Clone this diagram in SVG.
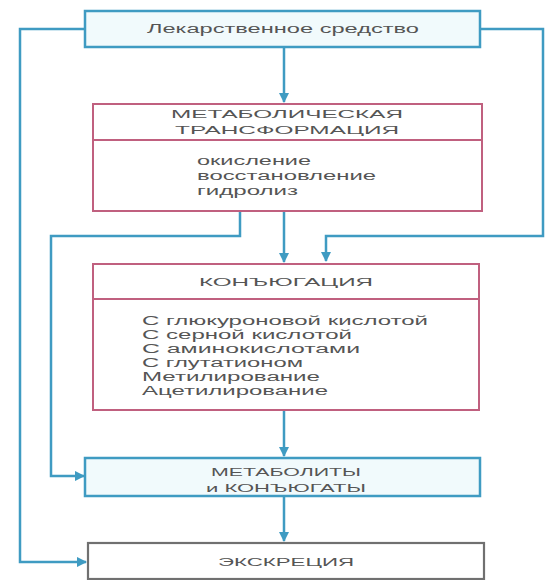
<svg xmlns="http://www.w3.org/2000/svg" width="549" height="580" viewBox="0 0 549 580">
<style>
.bg{fill:#ffffff}
.blue{fill:#f1fafc;stroke:#3f9bc2;stroke-width:2.5}
.pink{fill:#ffffff;stroke:#c0607f;stroke-width:2}
.div{stroke:#c0607f;stroke-width:1.8}
.grey{fill:#ffffff;stroke:#707070;stroke-width:2.2}
.t{font-family:"Liberation Sans",Arial,sans-serif;fill:#555;font-size:12px}
.s{font-size:11.5px}
.c{text-anchor:middle}
.conn{fill:none;stroke:#3f9bc2;stroke-width:2.5}
</style>
<defs>
<marker id="ah" viewBox="0 0 10 10" refX="9" refY="5" markerWidth="4.2" markerHeight="4.2" markerUnits="strokeWidth" orient="auto">
<path d="M0,0 L10,5 L0,10 z" fill="#3f9bc2"/>
</marker>
</defs>
<rect class="bg" x="0" y="0" width="549" height="580"/>
<g id="connectors">
<polyline class="conn" points="85,29 20,29 20,562 86,562" marker-end="url(#ah)"/>
<polyline class="conn" points="480,29 543,29 543,236 326,236 326,261" marker-end="url(#ah)"/>
<line class="conn" x1="284" y1="47" x2="284" y2="102" marker-end="url(#ah)"/>
<line class="conn" x1="284" y1="211" x2="284" y2="262" marker-end="url(#ah)"/>
<polyline class="conn" points="240,211 240,236 51,236 51,476 84,476" marker-end="url(#ah)"/>
<line class="conn" x1="284" y1="410" x2="284" y2="456" marker-end="url(#ah)"/>
<line class="conn" x1="284" y1="496" x2="284" y2="541" marker-end="url(#ah)"/>
</g>
<g id="drug">
<rect class="blue" x="85" y="11" width="395" height="36"/>
<text class="t c" x="283" y="33" textLength="272" lengthAdjust="spacingAndGlyphs">Лекарственное средство</text>
</g>
<g id="metabolic">
<rect class="pink" x="93" y="104" width="389" height="107"/>
<line class="div" x1="93" y1="140" x2="482" y2="140"/>
<text class="t c s" x="287" y="118" textLength="232" lengthAdjust="spacingAndGlyphs">МЕТАБОЛИЧЕСКАЯ</text>
<text class="t c s" x="287" y="134" textLength="224" lengthAdjust="spacingAndGlyphs">ТРАНСФОРМАЦИЯ</text>
<text class="t" x="197" y="165" textLength="114" lengthAdjust="spacingAndGlyphs">окисление</text>
<text class="t" x="197" y="180" textLength="179" lengthAdjust="spacingAndGlyphs">восстановление</text>
<text class="t" x="197" y="195" textLength="101" lengthAdjust="spacingAndGlyphs">гидролиз</text>
</g>
<g id="conjugation">
<rect class="pink" x="93" y="264" width="386" height="146"/>
<line class="div" x1="93" y1="299" x2="479" y2="299"/>
<text class="t c s" x="286" y="286" textLength="174" lengthAdjust="spacingAndGlyphs">КОНЪЮГАЦИЯ</text>
<text class="t" x="142" y="325" textLength="286" lengthAdjust="spacingAndGlyphs">С глюкуроновой кислотой</text>
<text class="t" x="142" y="339" textLength="210" lengthAdjust="spacingAndGlyphs">С серной кислотой</text>
<text class="t" x="142" y="353" textLength="218" lengthAdjust="spacingAndGlyphs">С аминокислотами</text>
<text class="t" x="142" y="367" textLength="161" lengthAdjust="spacingAndGlyphs">С глутатионом</text>
<text class="t" x="142" y="381" textLength="178" lengthAdjust="spacingAndGlyphs">Метилирование</text>
<text class="t" x="142" y="395" textLength="186" lengthAdjust="spacingAndGlyphs">Ацетилирование</text>
</g>
<g id="metabolites">
<rect class="blue" x="85" y="458" width="395" height="38"/>
<text class="t c s" x="286" y="476" textLength="150" lengthAdjust="spacingAndGlyphs">МЕТАБОЛИТЫ</text>
<text class="t c s" x="286" y="492" textLength="160" lengthAdjust="spacingAndGlyphs">и КОНЪЮГАТЫ</text>
</g>
<g id="excretion">
<rect class="grey" x="88" y="543" width="396" height="36"/>
<text class="t c s" x="286" y="566" textLength="136" lengthAdjust="spacingAndGlyphs">ЭКСКРЕЦИЯ</text>
</g>
</svg>
